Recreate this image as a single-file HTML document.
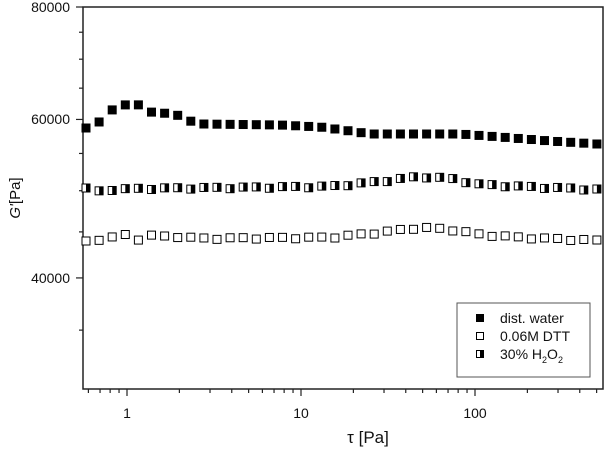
<!DOCTYPE html>
<html><head><meta charset="utf-8"><style>body{margin:0;background:#fff}svg{display:block}text{font-family:"Liberation Sans",Arial,sans-serif;fill:#111}</style></head>
<body>
<svg id="s" width="605" height="452" viewBox="0 0 605 452">
<rect x="83" y="7" width="520" height="382" fill="none" stroke="#222" stroke-width="1.5"/>
<g id="ax" stroke="#222" stroke-width="1.2"></g>
<g font-size="14">
<text x="70" y="12" text-anchor="end">80000</text>
<text x="70" y="124" text-anchor="end">60000</text>
<text x="70" y="283" text-anchor="end">40000</text>
<text x="127" y="418" text-anchor="middle">1</text>
<text x="301" y="418" text-anchor="middle">10</text>
<text x="475" y="418" text-anchor="middle">100</text>
</g>
<text x="368" y="443" font-size="17" text-anchor="middle">τ [Pa]</text>
<text transform="translate(20,198) rotate(-90)" font-size="15" text-anchor="middle"><tspan font-style="italic">G'</tspan>[Pa]</text>
<g id="d"></g>
<rect x="457" y="303" width="133" height="74" fill="#fff" stroke="#555" stroke-width="1"/>
<rect x="476" y="314" width="8" height="8" fill="#000"/>
<rect x="476.5" y="332.5" width="7" height="7" fill="#fff" stroke="#000"/>
<rect x="476.5" y="350.5" width="7" height="7" fill="#fff" stroke="#000"/><rect x="480" y="350.5" width="3.5" height="7" fill="#000"/>
<g font-size="14"><text x="500" y="323">dist. water</text><text x="500" y="341">0.06M DTT</text><text x="500" y="359">30% H<tspan font-size="9" dy="4">2</tspan><tspan dy="-4">O</tspan><tspan font-size="9" dy="4">2</tspan></text></g>
</svg>
<script>
var ax=document.getElementById('ax'),d=document.getElementById('d'),h='';
function X(t){return 127+174*Math.log10(t)}
function Y(v){return 7+900*(Math.log10(80000)-Math.log10(v))}
for(var e=-1;e<3;e++)for(var k=1;k<10;k++){var t=k*Math.pow(10,e),x=X(t);if(x<83||x>603)continue;var L=k==1?7:4;h+='<line x1="'+x+'" x2="'+x+'" y1="389" y2="'+(389+L)+'"/>';}
for(var v=30000;v<=80000;v+=5000){var y=Y(v);if(y>389)continue;var L=(v%20000==0)?7:4;h+='<line x1="83" x2="'+(83-L)+'" y1="'+y+'" y2="'+y+'"/>';}
ax.innerHTML=h;
function interp(p,x){for(var i=0;i<p.length-1;i++){if(x<=p[i+1][0]){var a=p[i],b=p[i+1];return a[1]+(b[1]-a[1])*(x-a[0])/(b[0]-a[0]);}}return p[p.length-1][1];}
var F=[[86,128],[98,123],[112,110],[124,105],[137,104],[150,112],[163,113],[177,115],[190,121],[203,124],[280,125],[320,127],[350,131],[370,134],[460,134],[500,137],[550,141],[597,144]];
var H=[[86,188],[98,191],[112,189],[150,188],[250,187],[330,186],[380,181],[420,176],[450,178],[480,184],[520,186],[597,189]];
var O=[[86,241],[98,239],[112,237],[124,234],[137,239],[150,235],[163,236],[177,236],[200,238],[330,237],[380,232],[420,227],[450,229],[480,234],[520,237],[597,240]];
var s='';
for(var i=0;i<40;i++){var x=86+i*13.1;
var y=interp(F,x);s+='<rect x="'+(x-4.5)+'" y="'+(y-4.5)+'" width="9" height="9" fill="#000"/>';
y=interp(O,x)+(i%3==1?1.5:0);s+='<rect x="'+(x-4)+'" y="'+(y-4)+'" width="8" height="8" fill="#fff" stroke="#000"/>';
y=interp(H,x)+(i%3==2?1.5:0);s+='<rect x="'+(x-4)+'" y="'+(y-4)+'" width="8" height="8" fill="#fff" stroke="#000"/><rect x="'+x+'" y="'+(y-4)+'" width="4" height="8" fill="#000"/>';}
d.innerHTML=s;
</script>
</body></html>
